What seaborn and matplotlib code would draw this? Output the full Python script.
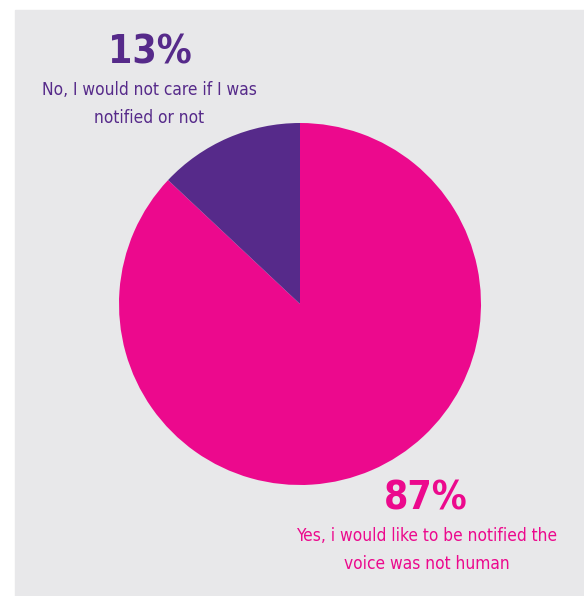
import matplotlib
matplotlib.use("Agg")
import matplotlib.pyplot as plt
from matplotlib.patches import Rectangle
import seaborn as sns

# survey answers
labels = ["Yes, i would like to be notified the\nvoice was not human",
          "No, I would not care if I was\nnotified or not"]
shares = [87, 13]
colors = ["#ec098d", "#562a8a"]

W, H = 584, 596

sns.set_theme(style="white")
plt.rcParams['font.family'] = ['DejaVu Sans']
plt.rcParams['font.stretch'] = 'condensed'

fig = plt.figure(figsize=(W / 100, H / 100), dpi=100)
ax = fig.add_axes([0, 0, 1, 1])

# gray panel
ax.add_patch(Rectangle((15, 0), W - 15, H - 10, color="#e8e8ea", zorder=0))

ax.pie(shares, colors=colors, startangle=90, counterclock=False,
       center=(300, H - 304), radius=181, frame=True,
       wedgeprops=dict(linewidth=0))
ax.set_xlim(0, W)
ax.set_ylim(0, H)
ax.set_aspect("equal")
ax.axis("off")

# labels
ax.text(150, H - 53, f"{shares[1]}%", color=colors[1], fontsize=28,
        fontweight="bold", ha="center", va="center")
ax.text(149, H - 104, labels[1], color=colors[1], fontsize=12.4,
        ha="center", va="center", linespacing=1.7)
ax.text(426, H - 498, f"{shares[0]}%", color=colors[0], fontsize=28,
        fontweight="bold", ha="center", va="center")
ax.text(427, H - 550, labels[0], color=colors[0], fontsize=12.4,
        ha="center", va="center", linespacing=1.7)

fig.savefig("out.png", dpi=100, facecolor="white")
